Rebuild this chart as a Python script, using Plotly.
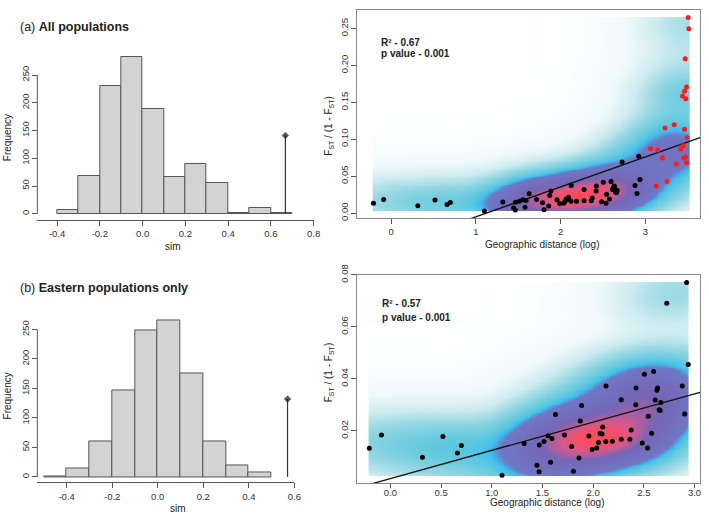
import numpy as np
import plotly.graph_objects as go

W, H = 709, 517
FONT = "Liberation Sans, Arial, sans-serif"

# ---------------- data ----------------
# (a) randomisation histogram, all populations (bins of 0.1)
hist_a_left = [-0.4, -0.3, -0.2, -0.1, 0.0, 0.1, 0.2, 0.3, 0.4, 0.5, 0.6]
hist_a_counts = [7, 68, 230, 282, 188, 66, 90, 56, 2, 10, 1]
obs_a_value = 0.668
obs_a_height = 141

# (b) randomisation histogram, eastern populations only
hist_b_left = [-0.5, -0.4, -0.3, -0.2, -0.1, 0.0, 0.1, 0.2, 0.3, 0.4]
hist_b_counts = [1, 15, 60, 147, 249, 265, 175, 60, 20, 7]
obs_b_value = 0.57
obs_b_height = 132

# eastern population pairs (black points): geographic distance (log), Fst/(1-Fst)
east_x = [-0.208, -0.088, 0.316, 0.518, 0.661, 0.700, 1.101, 1.319, 1.446, 1.466,
          1.469, 1.515, 1.554, 1.580, 1.593, 1.629, 1.717, 1.788, 1.805, 1.860,
          1.873, 1.886, 1.958, 1.990, 2.036, 2.052, 2.068, 2.088, 2.094, 2.124,
          2.127, 2.189, 2.277, 2.277, 2.362, 2.375, 2.423, 2.420, 2.485, 2.505,
          2.537, 2.544, 2.577, 2.596, 2.612, 2.629, 2.635, 2.651, 2.668, 2.661,
          2.726, 2.879, 2.902, 2.922, 2.938]
east_y = [0.0133, 0.0184, 0.0098, 0.0178, 0.0115, 0.0144, 0.0029, 0.0151, 0.0068, 0.0043,
          0.0146, 0.0159, 0.0181, 0.0079, 0.0171, 0.0263, 0.0184, 0.0140, 0.0045, 0.0096,
          0.0238, 0.0298, 0.0180, 0.0128, 0.0134, 0.0155, 0.0191, 0.0188, 0.0215, 0.0159,
          0.0373, 0.0160, 0.0320, 0.0168, 0.0168, 0.0203, 0.0365, 0.0300, 0.0153, 0.0418,
          0.0134, 0.0256, 0.0191, 0.0428, 0.0319, 0.0356, 0.0365, 0.0281, 0.0309, 0.0278,
          0.0691, 0.0373, 0.0265, 0.0771, 0.0455]

# western population pairs (red points, only in "all populations")
west_x = [3.506, 3.514, 3.471, 3.487, 3.463, 3.440, 3.479, 3.233, 3.342, 3.463,
          3.494, 3.062, 3.147, 3.447, 3.420, 3.202, 3.455, 3.474, 3.366, 3.487,
          3.128, 3.257]
west_y = [0.265, 0.2496, 0.209, 0.1708, 0.165, 0.1585, 0.1549, 0.1153, 0.1197, 0.1135,
          0.1025, 0.0871, 0.0853, 0.0911, 0.0867, 0.0747, 0.0747, 0.0760, 0.0664, 0.0681,
          0.0365, 0.0427]

# regression lines (intercept, slope)
line_a = (-0.0456, 0.0405)
line_b = (0.00163, 0.01088)

stats_a = ["R² - 0.67", "p value - 0.001"]
stats_b = ["R² - 0.57", "p value - 0.001"]

hist_a_ticks = [-0.4, -0.2, 0.0, 0.2, 0.4, 0.6, 0.8]
hist_b_ticks = [-0.4, -0.2, 0.0, 0.2, 0.4, 0.6]
freq_ticks = [0, 50, 100, 150, 200, 250]
sc_a_xticks = [0, 1, 2, 3]
sc_a_yticks = [0.0, 0.05, 0.10, 0.15, 0.20, 0.25]
sc_b_xticks = [0.0, 0.5, 1.0, 1.5, 2.0, 2.5, 3.0]
sc_b_yticks = [0.02, 0.04, 0.06, 0.08]


# ---------------- helpers ----------------
def pxx(p):
    return p / W


def pxy(p):
    return 1 - p / H


def smooth_density(xs, ys, bwx, bwy, n=220):
    xs = np.asarray(xs)
    ys = np.asarray(ys)
    gx = np.linspace(xs.min(), xs.max(), n)
    gy = np.linspace(ys.min(), ys.max(), n)
    kx = np.exp(-0.5 * ((gx[None, :] - xs[:, None]) / bwx) ** 2)
    ky = np.exp(-0.5 * ((gy[None, :] - ys[:, None]) / bwy) ** 2)
    dens = ky.T @ kx
    z = (dens / dens.max()) ** 0.25
    return gx, gy, z


colorscale = [
    [0.00, "#ffffff"],
    [0.30, "#f0f9fa"],
    [0.46, "#cdebf0"],
    [0.58, "#95d7e2"],
    [0.69, "#5fc8de"],
    [0.725, "#3fc0ee"],
    [0.76, "#6e78c6"],
    [0.91, "#7666b6"],
    [0.965, "#d8588a"],
    [1.00, "#ff4a58"],
]

fig = go.Figure()

# ---------------- histogram (a) ----------------
fig.add_trace(go.Bar(
    x=[l + 0.05 for l in hist_a_left], y=hist_a_counts, width=0.1,
    marker=dict(color="#d3d3d3", line=dict(color="#555555", width=1)),
    xaxis="x", yaxis="y", showlegend=False, hoverinfo="skip"))
fig.add_trace(go.Scatter(
    x=[obs_a_value, obs_a_value], y=[0, obs_a_height], mode="lines+markers",
    line=dict(color="#333333", width=1.2),
    marker=dict(size=[0, 5], symbol="diamond", color="#111111"),
    xaxis="x", yaxis="y", showlegend=False))

# ---------------- histogram (b) ----------------
fig.add_trace(go.Bar(
    x=[l + 0.05 for l in hist_b_left], y=hist_b_counts, width=0.1,
    marker=dict(color="#d3d3d3", line=dict(color="#555555", width=1)),
    xaxis="x2", yaxis="y2", showlegend=False, hoverinfo="skip"))
fig.add_trace(go.Scatter(
    x=[obs_b_value, obs_b_value], y=[0, obs_b_height], mode="lines+markers",
    line=dict(color="#333333", width=1.2),
    marker=dict(size=[0, 5], symbol="diamond", color="#111111"),
    xaxis="x2", yaxis="y2", showlegend=False))

# ---------------- scatter (a) ----------------
all_x = east_x + west_x
all_y = east_y + west_y
gx, gy, z = smooth_density(all_x, all_y, 0.34, 0.021)
fig.add_trace(go.Heatmap(x=gx, y=gy, z=z, colorscale=colorscale, zmin=0, zmax=1,
                         showscale=False, hoverinfo="skip", xaxis="x3", yaxis="y3"))
xr_a = [-0.397, 3.646]
fig.add_trace(go.Scatter(
    x=xr_a, y=[line_a[0] + line_a[1] * v for v in xr_a], mode="lines",
    line=dict(color="#111111", width=1.3), xaxis="x3", yaxis="y3", showlegend=False))
fig.add_trace(go.Scatter(x=east_x, y=east_y, mode="markers",
                         marker=dict(color="#000000", size=5),
                         xaxis="x3", yaxis="y3", showlegend=False))
fig.add_trace(go.Scatter(x=west_x, y=west_y, mode="markers",
                         marker=dict(color="#ff1a1a", size=5),
                         xaxis="x3", yaxis="y3", showlegend=False))

# ---------------- scatter (b) ----------------
gx2, gy2, z2 = smooth_density(east_x, east_y, 0.34, 0.0072)
fig.add_trace(go.Heatmap(x=gx2, y=gy2, z=z2, colorscale=colorscale, zmin=0, zmax=1,
                         showscale=False, hoverinfo="skip", xaxis="x4", yaxis="y4"))
xr_b = [-0.325, 3.054]
fig.add_trace(go.Scatter(
    x=xr_b, y=[line_b[0] + line_b[1] * v for v in xr_b], mode="lines",
    line=dict(color="#111111", width=1.3), xaxis="x4", yaxis="y4", showlegend=False))
fig.add_trace(go.Scatter(x=east_x, y=east_y, mode="markers",
                         marker=dict(color="#000000", size=5),
                         xaxis="x4", yaxis="y4", showlegend=False))

tickfont = dict(family=FONT, size=9.5, color="#333333")
axcol = "#555555"

common_x = dict(showgrid=False, zeroline=False, ticks="outside", ticklen=5,
                tickcolor=axcol, tickfont=tickfont, fixedrange=True)
common_y = dict(showgrid=False, zeroline=False, ticks="outside", ticklen=5,
                tickcolor=axcol, tickfont=tickfont, tickangle=-90, fixedrange=True)


def fmt(v, d):
    return f"{v:.{d}f}"


fig.update_layout(
    width=W, height=H, margin=dict(l=0, r=0, t=0, b=0),
    paper_bgcolor="white", plot_bgcolor="rgba(0,0,0,0)",
    bargap=0, showlegend=False,
    xaxis=dict(common_x, domain=[pxx(37.7), pxx(316.7)], range=[-0.4926, 0.8],
               anchor="free", position=pxy(215), showline=True, linecolor=axcol,
               tickvals=hist_a_ticks, ticktext=[fmt(v, 1) for v in hist_a_ticks]),
    yaxis=dict(common_y, domain=[pxy(213), pxy(40)],
               range=[(209 - 213) / 0.5692, (209 - 40) / 0.5692],
               anchor="free", position=pxx(37.7), showline=False,
               tickvals=freq_ticks, ticktext=[str(v) for v in freq_ticks]),
    xaxis2=dict(common_x, domain=[pxx(37.7), pxx(297.3)], range=[-0.5287, 0.6],
                anchor="free", position=pxy(484.3), showline=True, linecolor=axcol,
                tickvals=hist_b_ticks, ticktext=[fmt(v, 1) for v in hist_b_ticks]),
    yaxis2=dict(common_y, domain=[pxy(483), pxy(300)],
                range=[(479 - 483) / 0.6052, (479 - 300) / 0.6052],
                anchor="free", position=pxx(37.7), showline=False,
                tickvals=freq_ticks, ticktext=[str(v) for v in freq_ticks]),
    xaxis3=dict(common_x, domain=[pxx(361), pxx(707)], range=xr_a, anchor="y3",
                showline=True, mirror=True, linecolor="#888888",
                tickvals=sc_a_xticks, ticktext=[str(v) for v in sc_a_xticks]),
    yaxis3=dict(common_y, domain=[pxy(213.3), pxy(0.5)], range=[-0.0066, 0.2744],
                anchor="x3", showline=True, mirror=True, linecolor="#888888",
                tickvals=sc_a_yticks, ticktext=[fmt(v, 2) for v in sc_a_yticks]),
    xaxis4=dict(common_x, domain=[pxx(361), pxx(707)], range=xr_b, anchor="y4",
                showline=True, mirror=True, linecolor="#888888", ticklen=4,
                ticklabelstandoff=-3,
                tickvals=sc_b_xticks, ticktext=[fmt(v, 1) for v in sc_b_xticks]),
    yaxis4=dict(common_y, domain=[pxy(485.3), pxy(271.5)], range=[-0.0001, 0.0801],
                anchor="x4", showline=True, mirror=True, linecolor="#888888",
                tickvals=sc_b_yticks, ticktext=[fmt(v, 2) for v in sc_b_yticks]),
)

# y-axis lines of histograms (from first to last tick)
for yref in ["y", "y2"]:
    fig.add_shape(type="line", xref="paper", yref=yref, x0=pxx(37.7), x1=pxx(37.7),
                  y0=freq_ticks[0], y1=freq_ticks[-1], line=dict(color=axcol, width=1))


def add_text(x, y, text, size=10, angle=0, xanchor="center", color="#222222"):
    fig.add_annotation(x=pxx(x), y=pxy(y), xref="paper", yref="paper", text=text,
                       showarrow=False, textangle=angle, xanchor=xanchor, yanchor="middle",
                       font=dict(family=FONT, size=size, color=color))


add_text(18, 17, "(a) <b>All populations</b>", size=12.5, xanchor="left")
add_text(18, 285, "(b) <b>Eastern populations only</b>", size=12.5, xanchor="left")
add_text(175, 243, "sim")
add_text(180, 511.5, "sim")
add_text(7.5, 131, "Frequency", angle=-90)
add_text(7.5, 396, "Frequency", angle=-90)
ylab = "F<sub>ST</sub> / (1 - F<sub>ST</sub>)"
add_text(332, 119, ylab, angle=-90)
add_text(332, 372, ylab, angle=-90)
add_text(548, 241, "Geographic distance (log)")
add_text(553, 505, "Geographic distance (log)")
add_text(383, 33, "<b>" + stats_a[0] + "</b>", xanchor="left")
add_text(383, 44.5, "<b>" + stats_a[1] + "</b>", xanchor="left")
add_text(384, 301.5, "<b>" + stats_b[0] + "</b>", xanchor="left")
add_text(384, 315.5, "<b>" + stats_b[1] + "</b>", xanchor="left")

fig.write_html("out.html", config={"displayModeBar": False},
               post_script="document.body.style.margin='0';document.body.style.overflow='hidden';")
